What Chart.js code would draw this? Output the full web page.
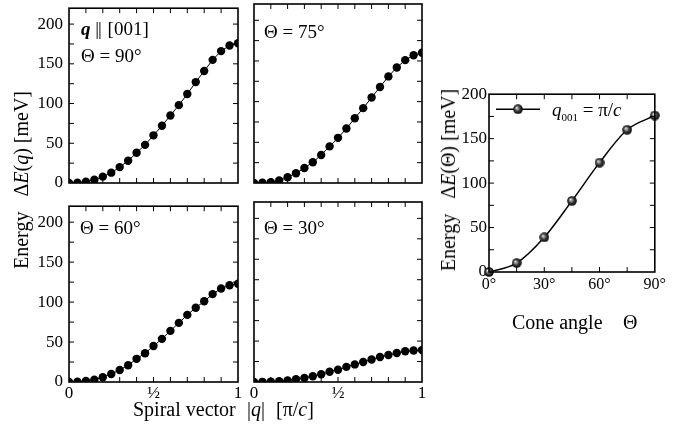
<!DOCTYPE html>
<html>
<head>
<meta charset="utf-8">
<script src="https://cdn.jsdelivr.net/npm/chart.js@4.4.1/dist/chart.umd.min.js"></script>
<style>
  body { margin: 0; background: #fff; }
  #fig { position: relative; width: 690px; height: 435px; overflow: hidden; font-family: 'Liberation Serif', serif; color: #000; }
  #fig canvas { position: absolute; }
  .t { position: absolute; white-space: nowrap; font-size: 19px; line-height: 1; }
  .ax { position: absolute; white-space: nowrap; font-size: 20px; line-height: 1; }
  .rot { position: absolute; white-space: nowrap; font-size: 20px; line-height: 1; transform: translate(-50%, -50%) rotate(-90deg); }
  .par { letter-spacing: -1px; margin-right: 2px; }
  sub { font-size: 11px; vertical-align: -5px; line-height: 0; }
</style>
</head>
<body>
<div id="fig">
  <canvas id="c90"></canvas>
  <canvas id="c75"></canvas>
  <canvas id="c60"></canvas>
  <canvas id="c30"></canvas>
  <canvas id="cone"></canvas>

  <div class="t" style="left:81px;top:19px"><b><i>q</i></b> <span class="par">||</span> [001]</div>
  <div class="t" style="left:81px;top:46px">Θ = 90°</div>
  <div class="t" style="left:264px;top:22px">Θ = 75°</div>
  <div class="t" style="left:80px;top:218px">Θ = 60°</div>
  <div class="t" style="left:264px;top:218px">Θ = 30°</div>
  <div class="t" style="left:552px;top:100px"><i>q</i><sub>001</sub> = π/<i>c</i></div>

  <div class="rot" style="left:21px;top:180px">Energy&nbsp;&nbsp;&nbsp;Δ<i>E</i>(<i>q</i>) [meV]</div>
  <div class="rot" style="left:448px;top:180px">Energy&nbsp;&nbsp;&nbsp;Δ<i>E</i>(Θ) [meV]</div>
  <div class="ax" style="left:133px;top:399px">Spiral vector</div>
  <div class="ax" style="left:247px;top:399px">|<i>q</i>|</div>
  <div class="ax" style="left:276px;top:399px">[π/<i>c</i>]</div>
  <div class="ax" style="left:512px;top:312px">Cone angle</div>
  <div class="ax" style="left:623px;top:312px">Θ</div>
</div>

<script>
// spiral vector |q| in units of pi/c
const spiralQ = [0, 0.05, 0.1, 0.15, 0.2, 0.25, 0.3, 0.35, 0.4, 0.45, 0.5,
                 0.55, 0.6, 0.65, 0.7, 0.75, 0.8, 0.85, 0.9, 0.95, 1];
// energy dE(q) in meV for each cone angle
const energy90 = [0, 0.5, 1.5, 4, 8, 13, 20, 28, 38, 48, 60, 72, 85, 98, 112, 127, 141, 155, 166, 173, 176];
const energy75 = [0, 0.3, 1, 3, 7, 12, 18.5, 25.5, 34.5, 45, 55.5, 67, 79.5, 92, 105, 118, 131, 142, 151, 157, 160];
const energy60 = [0, 0.3, 1.2, 3, 6, 10, 15, 21, 29, 36, 45, 54, 64, 74, 84, 93, 101, 110, 117, 121, 123];
const energy30 = [0, 0.2, 0.5, 1, 2, 3.5, 5, 7, 9.5, 12.5, 15, 18.5, 21.5, 24.5, 27.5, 30.5, 33, 35.5, 37.5, 38.5, 39];

// energy at q001 = pi/c against cone angle
const coneAngle = [0, 15, 30, 45, 60, 75, 90];
const coneEnergy = [0, 10, 39, 80, 123, 160, 176];

// axis ticks
const spiralLabelValues = [0, 0.5, 1];
const spiralMarks = [0.1, 0.2, 0.3, 0.4, 0.5, 0.6, 0.7, 0.8, 0.9];
const energyLabelValues = [0, 50, 100, 150, 200];
const energyMarks = [25, 50, 75, 100, 125, 150, 175, 200];
const coneLabelValues = [0, 30, 60, 90];
const coneMarks = [15, 30, 45, 60, 75];
const coneEnergyMarks = [25, 50, 75, 100, 125, 150, 175];

Chart.defaults.font.family = "'Liberation Serif', serif";
Chart.defaults.color = '#000';

// margins around each plot box inside its canvas
const ML = 60, MT = 12, MR = 12, MB = 30;

function place(canvas, box) {
  canvas.width = box.r - box.l + ML + MR;
  canvas.height = box.b - box.t + MT + MB;
  canvas.style.left = (box.l - ML) + 'px';
  canvas.style.top = (box.t - MT) + 'px';
}

// box frame with inward tick marks on all four sides
const frameTicks = {
  id: 'frameTicks',
  afterDatasetsDraw(chart, args, opts) {
    const ctx = chart.ctx, a = chart.chartArea;
    const x = chart.scales.x, y = chart.scales.y;
    ctx.save();
    ctx.strokeStyle = '#000';
    ctx.lineWidth = 1;
    ctx.beginPath();
    opts.x.forEach(v => {
      const px = x.getPixelForValue(v);
      ctx.moveTo(px, a.bottom); ctx.lineTo(px, a.bottom - 5);
      ctx.moveTo(px, a.top); ctx.lineTo(px, a.top + 5);
    });
    opts.y.forEach(v => {
      const py = y.getPixelForValue(v);
      ctx.moveTo(a.left, py); ctx.lineTo(a.left + 5, py);
      ctx.moveTo(a.right, py); ctx.lineTo(a.right - 5, py);
    });
    ctx.stroke();
    ctx.lineWidth = 1.6;
    ctx.strokeRect(a.left, a.top, a.right - a.left, a.bottom - a.top);
    ctx.restore();
  }
};

function fixTicks(values) {
  return function (scale) { scale.ticks = values.map(v => ({ value: v })); };
}

function spiralChart(id, box, energies, showY, showX) {
  const canvas = document.getElementById(id);
  place(canvas, box);
  return new Chart(canvas, {
    type: 'line',
    data: {
      datasets: [{
        data: spiralQ.map((q, i) => ({ x: q, y: energies[i] })),
        borderColor: '#000',
        borderWidth: 1,
        pointRadius: 4.2,
        pointBorderWidth: 0,
        pointBackgroundColor: '#000'
      }]
    },
    options: {
      responsive: false,
      animation: false,
      layout: { padding: { top: MT, right: MR, left: 0, bottom: 0 } },
      scales: {
        x: {
          type: 'linear', min: 0, max: 1,
          grid: { display: false, drawTicks: false },
          border: { display: false },
          afterBuildTicks: fixTicks(spiralLabelValues),
          afterFit(s) { s.height = MB; },
          ticks: {
            display: showX, padding: 1, font: { size: 17 },
            callback: v => (v === 0.5 ? '½' : String(v))
          }
        },
        y: {
          min: 0, max: 220,
          grid: { display: false, drawTicks: false },
          border: { display: false },
          afterBuildTicks: fixTicks(energyLabelValues),
          afterFit(s) { s.width = ML; },
          ticks: { display: showY, padding: 6, font: { size: 17 } }
        }
      },
      plugins: {
        legend: { display: false },
        tooltip: { enabled: false },
        frameTicks: { x: spiralMarks, y: energyMarks }
      }
    },
    plugins: [frameTicks]
  });
}

spiralChart('c90', { l: 69, t: 4, r: 238, b: 183 }, energy90, true, false);
spiralChart('c75', { l: 254, t: 4, r: 422, b: 183 }, energy75, false, false);
spiralChart('c60', { l: 69, t: 202, r: 238, b: 382 }, energy60, true, true);
spiralChart('c30', { l: 254, t: 202, r: 422, b: 382 }, energy30, false, true);

// shaded ball marker
function makeBall(size) {
  const c = document.createElement('canvas');
  c.width = size; c.height = size;
  const g = c.getContext('2d');
  const r = size / 2;
  const grad = g.createRadialGradient(r * 0.7, r * 0.7, 0, r, r, r);
  grad.addColorStop(0, '#f4f4f4');
  grad.addColorStop(0.25, '#9a9a9a');
  grad.addColorStop(0.6, '#333');
  grad.addColorStop(1, '#000');
  g.fillStyle = grad;
  g.beginPath(); g.arc(r, r, r - 0.2, 0, Math.PI * 2); g.fill();
  return c;
}
const ball = makeBall(10);

// legend sample: short line with a ball in the middle
const coneKey = {
  id: 'coneKey',
  afterDraw(chart) {
    const ctx = chart.ctx, a = chart.chartArea;
    const y = a.top + 15;
    ctx.save();
    ctx.strokeStyle = '#000';
    ctx.lineWidth = 1.5;
    ctx.beginPath();
    ctx.moveTo(a.left + 7, y); ctx.lineTo(a.left + 51, y);
    ctx.stroke();
    ctx.drawImage(ball, a.left + 29 - ball.width / 2, y - ball.height / 2);
    ctx.restore();
  }
};

const coneCanvas = document.getElementById('cone');
place(coneCanvas, { l: 489, t: 94, r: 657, b: 272 });
new Chart(coneCanvas, {
  type: 'line',
  data: {
    datasets: [{
      data: coneAngle.map((a, i) => ({ x: a, y: coneEnergy[i] })),
      borderColor: '#000',
      borderWidth: 1.5,
      cubicInterpolationMode: 'monotone',
      pointStyle: ball,
      pointRadius: 5,
      clip: false
    }]
  },
  options: {
    responsive: false,
    animation: false,
    layout: { padding: { top: MT, right: MR, left: 0, bottom: 0 } },
    scales: {
      x: {
        type: 'linear', min: 0, max: 90,
        grid: { display: false, drawTicks: false },
        border: { display: false },
        afterBuildTicks: fixTicks(coneLabelValues),
        afterFit(s) { s.height = MB; },
        ticks: { padding: 3, font: { size: 16 }, callback: v => v + '°' }
      },
      y: {
        min: 0, max: 200,
        grid: { display: false, drawTicks: false },
        border: { display: false },
        afterBuildTicks: fixTicks(energyLabelValues),
        afterFit(s) { s.width = ML; },
        ticks: { padding: 2, font: { size: 17 } }
      }
    },
    plugins: {
      legend: { display: false },
      tooltip: { enabled: false },
      frameTicks: { x: coneMarks, y: coneEnergyMarks }
    }
  },
  plugins: [frameTicks, coneKey]
});
</script>
</body>
</html>
